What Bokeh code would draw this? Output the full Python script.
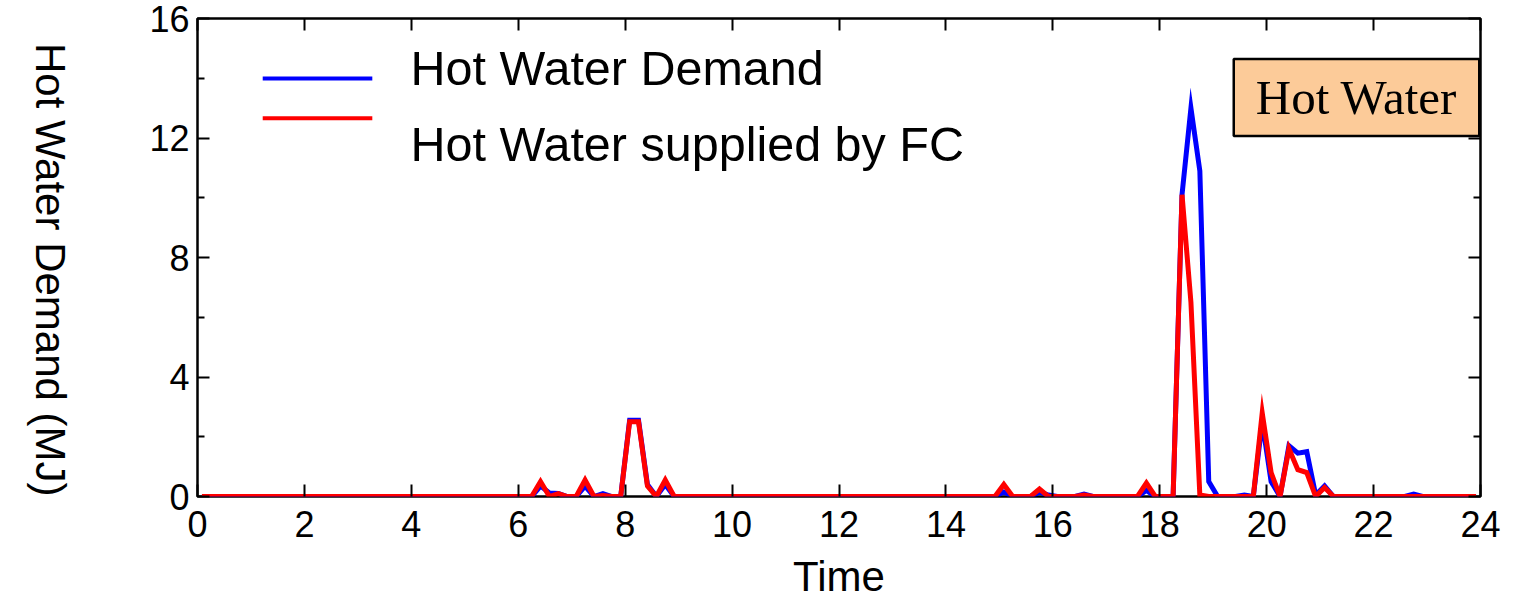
from bokeh.plotting import figure
from bokeh.models import Range1d, FixedTicker, LinearAxis, Label
from bokeh.embed import file_html
from bokeh.resources import INLINE

# 10-minute intervals over one day, plotted at the interval mid-points (hours)
time_h = [(k + 0.5) / 6 for k in range(144)]

# Hot water demand per 10-minute interval (MJ), one row per hour
demand_mj = [
    0, 0, 0, 0, 0, 0,            # 0h
    0, 0, 0, 0, 0, 0,            # 1h
    0, 0, 0, 0, 0, 0,            # 2h
    0, 0, 0, 0, 0, 0,            # 3h
    0, 0, 0, 0, 0, 0,            # 4h
    0, 0, 0, 0, 0, 0,            # 5h
    0, 0, 0.35, 0.12, 0.1, 0,    # 6h
    0, 0.35, 0, 0.1, 0, 0,       # 7h
    2.55, 2.55, 0.4, 0, 0.4, 0,  # 8h
    0, 0, 0, 0, 0, 0,            # 9h
    0, 0, 0, 0, 0, 0,            # 10h
    0, 0, 0, 0, 0, 0,            # 11h
    0, 0, 0, 0, 0, 0,            # 12h
    0, 0, 0, 0, 0, 0,            # 13h
    0, 0, 0, 0, 0, 0,            # 14h
    0.15, 0, 0, 0, 0.15, 0.05,   # 15h
    0, 0, 0, 0.08, 0, 0,         # 16h
    0, 0, 0, 0, 0.2, 0,          # 17h
    0, 0, 10.1, 13.0, 10.9, 0.5, # 18h
    0, 0, 0, 0.05, 0, 2.5,       # 19h
    0.5, 0, 1.7, 1.45, 1.5, 0.05,  # 20h
    0.35, 0, 0, 0, 0, 0,         # 21h
    0, 0, 0, 0, 0.08, 0,         # 22h
    0, 0, 0, 0, 0, 0,            # 23h
]

# Hot water supplied by the fuel cell per 10-minute interval (MJ)
supplied_mj = [
    0, 0, 0, 0, 0, 0,            # 0h
    0, 0, 0, 0, 0, 0,            # 1h
    0, 0, 0, 0, 0, 0,            # 2h
    0, 0, 0, 0, 0, 0,            # 3h
    0, 0, 0, 0, 0, 0,            # 4h
    0, 0, 0, 0, 0, 0,            # 5h
    0, 0, 0.5, 0, 0.1, 0,        # 6h
    0, 0.55, 0, 0.03, 0, 0,      # 7h
    2.5, 2.5, 0.35, 0, 0.55, 0,  # 8h
    0, 0, 0, 0, 0, 0,            # 9h
    0, 0, 0, 0, 0, 0,            # 10h
    0, 0, 0, 0, 0, 0,            # 11h
    0, 0, 0, 0, 0, 0,            # 12h
    0, 0, 0, 0, 0, 0,            # 13h
    0, 0, 0, 0, 0, 0,            # 14h
    0.4, 0, 0, 0, 0.25, 0,       # 15h
    0, 0, 0, 0.05, 0, 0,         # 16h
    0, 0, 0, 0, 0.45, 0,         # 17h
    0, 0, 10.1, 6.5, 0.05, 0,    # 18h
    0, 0, 0, 0, 0, 2.8,          # 19h
    0.8, 0, 1.6, 0.9, 0.8, 0,    # 20h
    0.3, 0, 0, 0, 0, 0,          # 21h
    0, 0, 0, 0, 0, 0,            # 22h
    0, 0, 0, 0, 0, 0,            # 23h
]

x_ticks = list(range(0, 25, 2))
y_major = [0, 4, 8, 12, 16]
y_minor = [2, 6, 10, 14]

series_names = ["Hot Water Demand", "Hot Water supplied by FC"]
series_colors = ["#0000ff", "#ff0000"]

SANS = "Liberation Sans"

p = figure(
    width=1514, height=602,
    x_range=Range1d(0, 24), y_range=Range1d(0, 16),
    output_backend="svg", toolbar_location=None,
    min_border_left=197, min_border_right=34,
    min_border_top=18, min_border_bottom=104,
)
p.background_fill_color = "white"
p.border_fill_color = "white"
p.xgrid.visible = False
p.ygrid.visible = False
p.outline_line_color = "black"
p.outline_line_width = 2.5
p.outline_line_alpha = 1.0


def style_axis(ax, ticker, labels=True):
    ax.ticker = ticker
    ax.axis_line_color = None
    ax.major_tick_in = 12
    ax.major_tick_out = 0
    ax.minor_tick_in = 7
    ax.minor_tick_out = 0
    ax.major_tick_line_color = "black"
    ax.major_tick_line_width = 2
    ax.minor_tick_line_color = "black"
    ax.minor_tick_line_width = 2
    if labels:
        ax.major_label_text_font = SANS
        ax.major_label_text_font_size = "36px"
        ax.major_label_text_color = "black"
    else:
        ax.major_label_text_font_size = "0px"
        ax.major_label_standoff = 0


xax = p.xaxis[0]
style_axis(xax, FixedTicker(ticks=x_ticks))
xax.major_label_standoff = 14
xax.axis_label = "Time"
xax.axis_label_text_font = SANS
xax.axis_label_text_font_size = "42px"
xax.axis_label_text_font_style = "normal"
xax.axis_label_text_color = "black"
xax.axis_label_standoff = 13

yax = p.yaxis[0]
style_axis(yax, FixedTicker(ticks=y_major, minor_ticks=y_minor))
yax.major_label_standoff = 8
yax.axis_label = "Hot Water Demand (MJ)"
yax.axis_label_text_font = SANS
yax.axis_label_text_font_size = "42px"
yax.axis_label_text_font_style = "normal"
yax.axis_label_text_color = "black"
yax.axis_label_text_line_height = 1.0
yax.axis_label_standoff = 96
# title reads from top to bottom
yax.axis_label_orientation = -1.5707963
yax.axis_label_align = "start"

top_axis = LinearAxis()
style_axis(top_axis, FixedTicker(ticks=x_ticks), labels=False)
p.add_layout(top_axis, "above")

right_axis = LinearAxis()
style_axis(right_axis, FixedTicker(ticks=y_major, minor_ticks=y_minor), labels=False)
p.add_layout(right_axis, "right")

# Data lines
for values, color in zip([demand_mj, supplied_mj], series_colors):
    p.line(time_h, values, line_color=color, line_width=5, line_join="miter")

# Legend drawn by hand: sample lines and their texts
legend_line_x = [1.22, 3.27]
legend_line_y = [13.99, 12.66]
for yy, color in zip(legend_line_y, series_colors):
    p.line(legend_line_x, [yy, yy], line_color=color, line_width=4)

for name, yy in zip(series_names, [429, 353]):
    p.add_layout(Label(
        x=213, y=yy, x_units="screen", y_units="screen",
        text=name, text_align="left", text_baseline="alphabetic",
        text_font=SANS, text_font_size="48.5px", text_color="black",
    ))

# Panel tag
p.add_layout(Label(
    x=1159, y=399, x_units="screen", y_units="screen",
    text="Hot Water", text_align="center", text_baseline="middle",
    text_font="Liberation Serif", text_font_size="49px", text_color="black",
    background_fill_color="#fccb99", border_line_color="black",
    border_line_width=2.5, padding=(22, 11),
))

open("out.html", "w").write(file_html(p, INLINE))
